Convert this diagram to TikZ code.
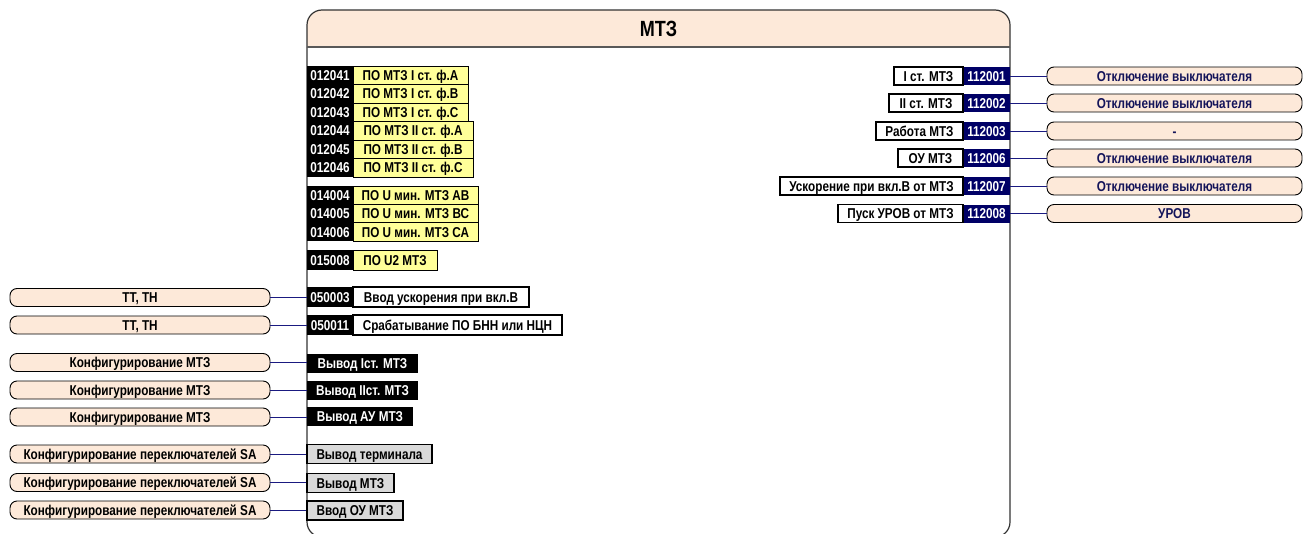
\documentclass[tikz,border=0pt]{standalone}
\usepackage{fontspec}
\setmainfont[FakeStretch=0.82]{Liberation Sans}
\definecolor{peach}{HTML}{FDE9D9}
\definecolor{ylw}{HTML}{FFFF99}
\definecolor{gry}{HTML}{D9D9D9}
\definecolor{navyb}{HTML}{000066}
\definecolor{navyl}{HTML}{1A1A80}
\definecolor{navyt}{HTML}{14145A}
\definecolor{edge}{HTML}{333333}
\begin{document}
\begin{tikzpicture}[x=1pt,y=-1pt,
  every node/.style={font=\bfseries\fontsize{14.3}{16}\selectfont, inner sep=0pt, text height=10.2pt, text depth=0pt},
  numk/.style={fill=black, text=white, minimum width=46},
  numn/.style={fill=navyb, text=white, minimum width=47, minimum height=18},
  ybox/.style={fill=ylw, draw=black, line width=0.9},
  wbox/.style={fill=white, draw=black, line width=1.1},
  kbox/.style={fill=black, text=white, minimum height=19},
  gbox/.style={fill=gry, draw=black, line width=1.1, minimum height=19},
  pillL/.style={fill=peach, draw=black, line width=0.9, rounded corners=7, minimum width=260, minimum height=18},
  pillR/.style={fill=peach, draw=black, line width=0.9, rounded corners=7, minimum width=255, minimum height=18, text=navyt},
  conn/.style={draw=navyl, line width=0.9}
]
\useasboundingbox (0,0) rectangle (1304,533);
\clip (0,0) rectangle (1304,533);

% main block
\draw[line width=1.2, draw=edge, rounded corners=15] (307,47) -- (307,537) -- (1010,537) -- (1010,47);
\fill[peach] (307,47) [rounded corners=15]-- (307,10) -- (1010,10) [sharp corners]-- (1010,47) -- cycle;
\draw[line width=1.2, draw=edge] (307,47) [rounded corners=15]-- (307,10) -- (1010,10) [sharp corners]-- (1010,47);
\draw[line width=1.2, draw=black!65] (307,47) -- (1010,47);
\node[font=\bfseries\fontsize{22}{24}\selectfont, text height=15.7pt] (title) at (658.5,29) {МТЗ};

% group 1
\node[numk, minimum height=18.5] (a1) at (330,75.25) {012041};
\node[numk, minimum height=18.5] (a2) at (330,93.75) {012042};
\node[numk, minimum height=18.5] (a3) at (330,112.25) {012043};
\node[numk, minimum height=18.5] (a4) at (330,130.75) {012044};
\node[numk, minimum height=18.5] (a5) at (330,149.25) {012045};
\node[numk, minimum height=18.5] (a6) at (330,167.75) {012046};
\node[ybox, minimum width=115, minimum height=18.5] (b1) at (410.5,75.25) {ПО МТЗ I ст. ф.А};
\node[ybox, minimum width=115, minimum height=18.5] (b2) at (410.5,93.75) {ПО МТЗ I ст. ф.В};
\node[ybox, minimum width=115, minimum height=18.5] (b3) at (410.5,112.25) {ПО МТЗ I ст. ф.С};
\node[ybox, minimum width=120, minimum height=18.5] (b4) at (413,130.75) {ПО МТЗ II ст. ф.А};
\node[ybox, minimum width=120, minimum height=18.5] (b5) at (413,149.25) {ПО МТЗ II ст. ф.В};
\node[ybox, minimum width=120, minimum height=18.5] (b6) at (413,167.75) {ПО МТЗ II ст. ф.С};

% group 2
\node[numk, minimum height=18.4] (c1) at (330,195.2) {014004};
\node[numk, minimum height=18.4] (c2) at (330,213.6) {014005};
\node[numk, minimum height=18.4] (c3) at (330,232) {014006};
\node[ybox, minimum width=125, minimum height=18.4] (d1) at (415.5,195.2) {ПО U мин. МТЗ АВ};
\node[ybox, minimum width=125, minimum height=18.4] (d2) at (415.5,213.6) {ПО U мин. МТЗ ВС};
\node[ybox, minimum width=125, minimum height=18.4] (d3) at (415.5,232) {ПО U мин. МТЗ СА};

\node[numk, minimum height=20] (e1) at (330,260) {015008};
\node[ybox, minimum width=84, minimum height=20] (f1) at (395,260) {ПО U2 МТЗ};

\node[numk, minimum height=20] (g1) at (330,297) {050003};
\node[wbox, minimum width=176, minimum height=20] (h1) at (441,297) {Ввод ускорения при вкл.В};
\node[numk, minimum height=20] (g2) at (330,325) {050011};
\node[wbox, minimum width=209, minimum height=20] (h2) at (457.5,325) {Срабатывание ПО БНН или НЦН};

\node[kbox, minimum width=111] (k1) at (362.5,363) {Вывод Iст. МТЗ};
\node[kbox, minimum width=111] (k2) at (362.5,390) {Вывод IIст. МТЗ};
\node[kbox, minimum width=106] (k3) at (360,416) {Вывод АУ МТЗ};

\node[gbox, minimum width=125] (s1) at (369.5,454) {Вывод терминала};
\node[gbox, minimum width=87] (s2) at (350.5,483) {Вывод МТЗ};
\node[gbox, minimum width=96] (s3) at (355,510.5) {Ввод ОУ МТЗ};

% left pills
\node[pillL] (p1) at (140,297.5) {ТТ, ТН};
\node[pillL] (p2) at (140,325) {ТТ, ТН};
\node[pillL] (p3) at (140,362.5) {Конфигурирование МТЗ};
\node[pillL] (p4) at (140,390) {Конфигурирование МТЗ};
\node[pillL] (p5) at (140,417) {Конфигурирование МТЗ};
\node[pillL] (p6) at (140,454) {Конфигурирование переключателей SA};
\node[pillL] (p7) at (140,482.5) {Конфигурирование переключателей SA};
\node[pillL] (p8) at (140,510) {Конфигурирование переключателей SA};

\draw[conn] (p1.east) -- (p1.east -| g1.west);
\draw[conn] (p2.east) -- (p2.east -| g2.west);
\draw[conn] (p3.east) -- (p3.east -| k1.west);
\draw[conn] (p4.east) -- (p4.east -| k2.west);
\draw[conn] (p5.east) -- (p5.east -| k3.west);
\draw[conn] (p6.east) -- (p6.east -| s1.west);
\draw[conn] (p7.east) -- (p7.east -| s2.west);
\draw[conn] (p8.east) -- (p8.east -| s3.west);

% right outputs
\node[numn] (r1) at (986.5,76) {112001};
\node[numn] (r2) at (986.5,103) {112002};
\node[numn] (r3) at (986.5,131) {112003};
\node[numn] (r4) at (986.5,158) {112006};
\node[numn] (r5) at (986.5,186) {112007};
\node[numn] (r6) at (986.5,213.5) {112008};
\node[wbox, minimum width=69, minimum height=18] (q1) at (928.5,76) {I ст. МТЗ};
\node[wbox, minimum width=74, minimum height=18] (q2) at (926,103) {II ст. МТЗ};
\node[wbox, minimum width=87, minimum height=18] (q3) at (919.5,131) {Работа МТЗ};
\node[wbox, minimum width=65, minimum height=18] (q4) at (930.5,158) {ОУ МТЗ};
\node[wbox, minimum width=183, minimum height=18] (q5) at (871.5,186) {Ускорение при вкл.В от МТЗ};
\node[wbox, minimum width=125, minimum height=18] (q6) at (900.5,213.5) {Пуск УРОВ от МТЗ};

\node[pillR] (t1) at (1174.5,76) {Отключение выключателя};
\node[pillR] (t2) at (1174.5,103) {Отключение выключателя};
\node[pillR] (t3) at (1174.5,131) {-};
\node[pillR] (t4) at (1174.5,158) {Отключение выключателя};
\node[pillR] (t5) at (1174.5,186) {Отключение выключателя};
\node[pillR] (t6) at (1174.5,213.5) {УРОВ};

\draw[conn] (r1.east) -- (r1.east -| t1.west);
\draw[conn] (r2.east) -- (r2.east -| t2.west);
\draw[conn] (r3.east) -- (r3.east -| t3.west);
\draw[conn] (r4.east) -- (r4.east -| t4.west);
\draw[conn] (r5.east) -- (r5.east -| t5.west);
\draw[conn] (r6.east) -- (r6.east -| t6.west);
\end{tikzpicture}
\end{document}
